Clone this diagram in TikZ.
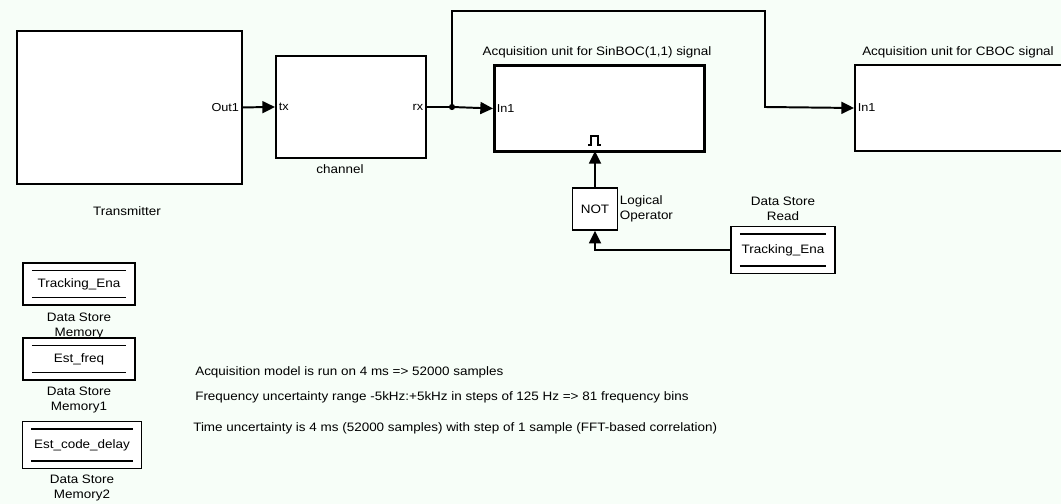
\documentclass[tikz,border=0pt]{standalone}
\usepackage{fontspec}
\setmainfont[FakeStretch=1.1]{Liberation Sans}
\usepackage{tikz}
\usetikzlibrary{positioning,arrows.meta}
\definecolor{bgpaper}{RGB}{247,254,248}

\begin{document}
\begin{tikzpicture}[
  x=0.025cm, y=-0.025cm,
  font=\fontsize{8.7}{10.7}\selectfont,
  block/.style={rectangle, draw, line width=1.4pt, fill=white, anchor=north west, inner sep=0pt},
  subsys/.style={block, line width=2.1pt},
  store/.style={block, line width=1.2pt, minimum width=2.8cm, minimum height=1.05cm},
  port/.style={inner sep=2.5pt, font=\fontsize{8.2}{9}\selectfont},
  caption/.style={align=center, inner sep=0pt},
  sig/.style={-{Triangle[length=9pt, width=8.5pt]}, line width=1.4pt}
]
\path[fill=bgpaper] (0,0) rectangle (1061,504);
\clip (0,0) rectangle (1061,504);

% Main blocks
\node[block, minimum width=5.62cm, minimum height=3.82cm] (trans) at (16,30) {};
\node[block, minimum width=3.75cm, minimum height=2.55cm] (chan) at (275,55) {};
\node[subsys, minimum width=5.25cm, minimum height=2.15cm] (sinboc) at (493,64) {};
\node[block, minimum width=6cm, minimum height=2.15cm] (cboc) at (854,64) {};

% Ports and captions
\node[port, anchor=east] (out1) at (trans.east) {Out1};
\node[port, anchor=west] (tx) at (chan.west) {tx};
\node[port, anchor=east] (rx) at (chan.east) {rx};
\node[port, anchor=west] (in1a) at (sinboc.west) {In1};
\node[port, anchor=west] (in1b) at (cboc.west) {In1};
\node[caption] (transcap) at (127,211) {Transmitter};
\node[caption] (chancap) at (340,169) {channel};
\node[caption, anchor=south] (sinboccap) at (597,58) {Acquisition unit for SinBOC(1,1) signal};
\node[caption, anchor=south] (cboccap) at (958,58) {Acquisition unit for CBOC signal};

% Enable port symbol
\draw[line width=1.4pt] (588,145) -- (591,145) -- (591,136) -- (598,136) -- (598,145) -- (601,145);
\coordinate (enable) at (595,151);

% Logical operator
\node[block, line width=1.1pt, minimum width=1.12cm, minimum height=1.05cm, anchor=center] (notop) at (595,209) {NOT};
\node[caption, align=left, anchor=west, inner sep=1pt] (notcap) at (notop.east) {Logical\\Operator};

% Data store read
\node[store, minimum width=2.6cm, minimum height=1.18cm, anchor=center] (dsread) at (783,250) {Tracking\_Ena};
\node[caption, anchor=south] (dsreadcap) at ([yshift=3pt]dsread.north) {Data Store\\Read};
\draw[line width=1pt] ([xshift=7pt,yshift=-6pt]dsread.north west) -- ([xshift=-7pt,yshift=-6pt]dsread.north east);
\draw[line width=1pt] ([xshift=7pt,yshift=6pt]dsread.south west) -- ([xshift=-7pt,yshift=6pt]dsread.south east);

% Data store memories (each box covers the caption above it)
\node[store, anchor=center] (dsm) at (79,284) {Tracking\_Ena};
\node[caption, anchor=north] (dsmcap) at ([yshift=-5pt]dsm.south) {Data Store\\Memory};
\node[store, anchor=center] (dsm1) at (79,359) {Est\_freq};
\node[caption, anchor=north] (dsm1cap) at ([yshift=-4pt]dsm1.south) {Data Store\\Memory1};
\node[store, minimum width=2.98cm, minimum height=1.18cm, anchor=center] (dsm2) at (82,445) {Est\_code\_delay};
\node[caption, anchor=north] (dsm2cap) at ([yshift=-4pt]dsm2.south) {Data Store\\Memory2};
\foreach \m in {dsm,dsm1,dsm2} {
  \draw[line width=1pt] ([xshift=7pt,yshift=-6pt]\m.north west) -- ([xshift=-7pt,yshift=-6pt]\m.north east);
  \draw[line width=1pt] ([xshift=7pt,yshift=6pt]\m.south west) -- ([xshift=-7pt,yshift=6pt]\m.south east);
}

% Signal lines
\coordinate (junc) at (452,107);
\draw[sig] (trans.east) -- (chan.west);
\draw[line width=1.4pt] (chan.east) -- (junc);
\draw[sig] (junc) -- (sinboc.west);
\draw[sig] (junc) -- (452,11) -- (765,11) -- (765,107) -- (cboc.west);
\fill (junc) circle (2.2pt);
\draw[sig] (notop.north) -- (enable);
\draw[sig] (dsread.west) -| (notop.south);

% Notes
\node[anchor=west, inner sep=0pt] (note1) at (195,372) {Acquisition model is run on 4 ms => 52000 samples};
\node[anchor=west, inner sep=0pt] (note2) at (195,397) {Frequency uncertainty range -5kHz:+5kHz in steps of 125 Hz => 81 frequency bins};
\node[anchor=west, inner sep=0pt] (note3) at (193,428) {Time uncertainty is 4 ms (52000 samples) with step of 1 sample (FFT-based correlation)};
\end{tikzpicture}
\end{document}
